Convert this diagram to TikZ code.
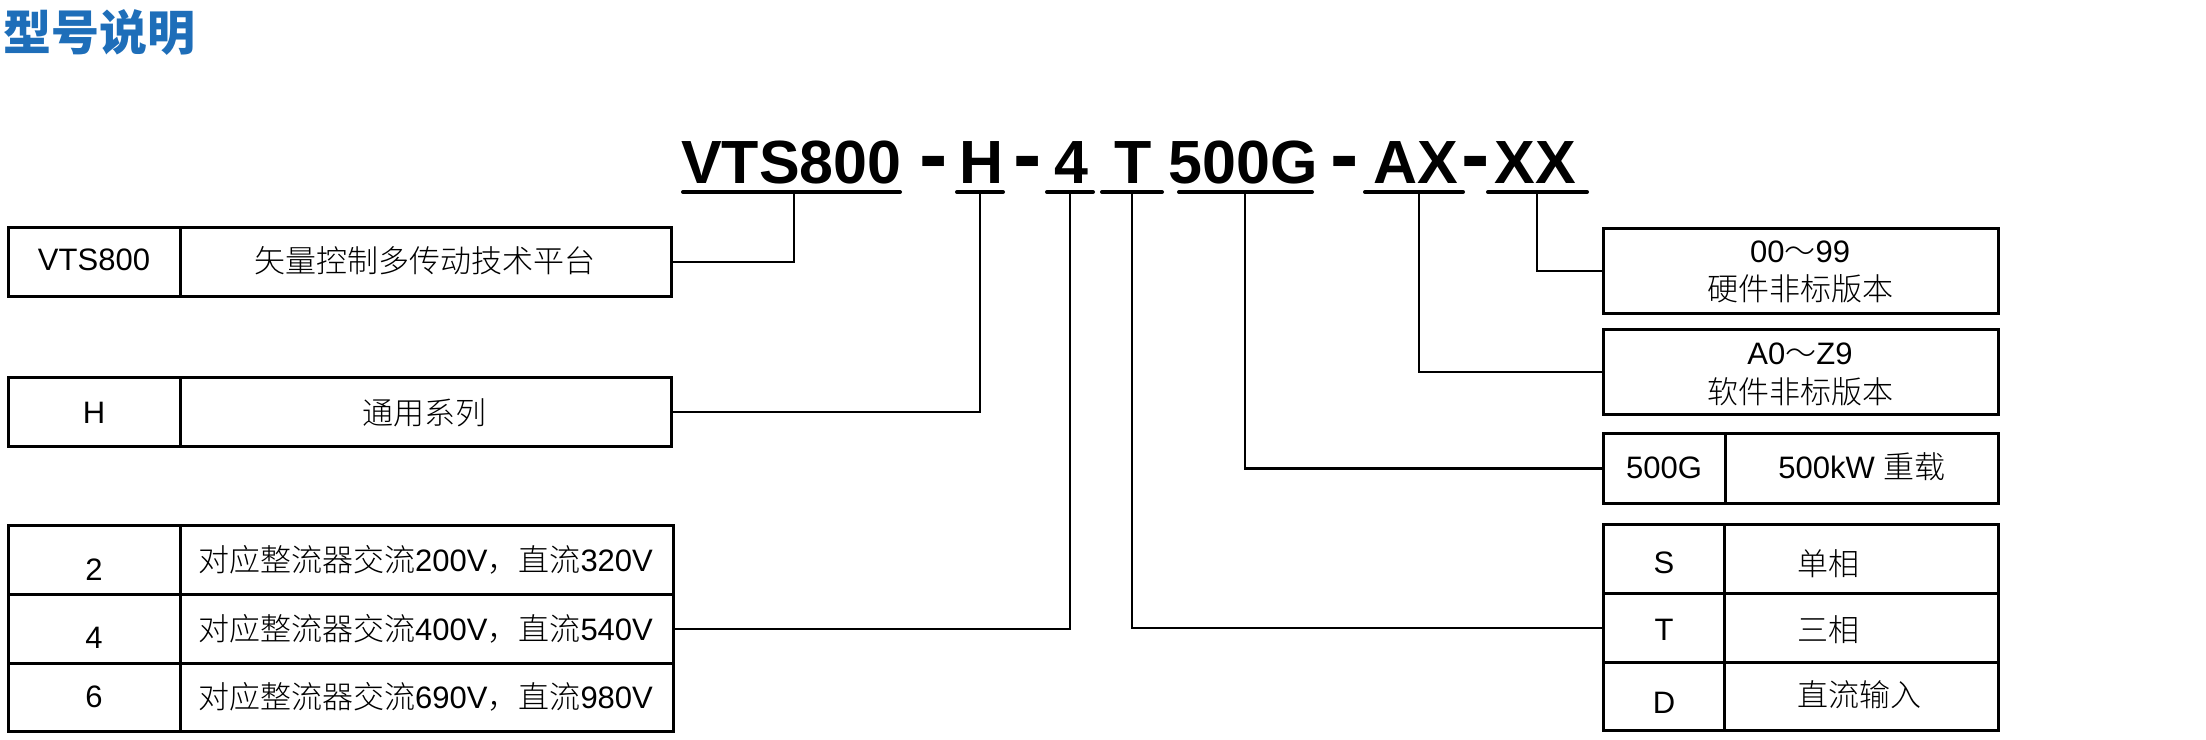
\documentclass[tikz,border=0pt]{standalone}
\usepackage{fontspec}
\setmainfont{Liberation Sans}
\newfontfamily\cjk{Noto Sans CJK SC}[UprightFont=* Light,BoldFont=* Bold]
\newfontfamily\cjktitle{Noto Sans CJK SC}
\newcommand\zh[1]{{\cjk #1}}
\definecolor{titleblue}{RGB}{30,110,185}
\begin{document}
\begin{tikzpicture}[x=1pt,y=-1pt,
  cell/.style={draw=black,line width=2.6pt,rectangle,inner sep=0pt,anchor=north west},
  conn/.style={draw=black,line width=2.6pt},
  uline/.style={line width=4pt,line cap=round},
  code/.style={font=\fontsize{61}{61}\selectfont\bfseries,anchor=base,inner sep=0pt},
  codedash/.style={font=\fontsize{85}{85}\selectfont\bfseries,anchor=base,inner sep=0pt},
  lbl/.style={font=\fontsize{31}{36}\selectfont,anchor=base,inner sep=0pt},
  lblw/.style={font=\fontsize{31}{36}\selectfont,anchor=base west,inner sep=0pt},
]
\useasboundingbox[fill=white] (0,0) rectangle (2206,739);

% title
\node[anchor=base west,inner sep=0pt,text=titleblue,font=\cjktitle\bfseries\fontsize{48}{48}\selectfont] (title) at (3,50) {型号说明};

% model code
\node[code] (cV) at (791.5,183) {VTS800};
\node[codedash] (d1) at (933.5,183) {-};
\node[code] (cH) at (982,183) {H};
\node[codedash] (d2) at (1027.5,183) {-};
\node[code] (c4) at (1071,183) {4};
\node[code] (cT) at (1133,183) {T};
\node[code] (cG) at (1243,183) {500G};
\node[codedash] (d3) at (1345,183) {-};
\node[code] (cA) at (1415.5,183) {AX};
\node[codedash] (d4) at (1476,183) {-};
\node[code] (cX) at (1535.5,183) {XX};

% underlines
\draw[uline] (683,192) -- (900,192);
\draw[uline] (957,192) -- (1003,192);
\draw[uline] (1047,192) -- (1093,192);
\draw[uline] (1102,192) -- (1162,192);
\draw[uline] (1179,192) -- (1312,192);
\draw[uline] (1365,192) -- (1463,192);
\draw[uline] (1488,192) -- (1587,192);
\coordinate (uV) at (794,192);
\coordinate (uH) at (980,192);
\coordinate (u4) at (1070,192);
\coordinate (uT) at (1132,192);
\coordinate (uG) at (1245,192);
\coordinate (uA) at (1419,192);
\coordinate (uX) at (1537,192);

% left boxes
\node[cell,minimum width=172pt,minimum height=69pt] (vl) at (7,226) {};
\node[cell,minimum width=491pt,minimum height=69pt] (vr) at (179,226) {};
\node[lbl] (tvl) at (94,270) {VTS800};
\node[lbl] (tvr) at (424.5,272) {\zh{矢量控制多传动技术平台}};

\node[cell,minimum width=172pt,minimum height=69pt] (hl) at (7,376) {};
\node[cell,minimum width=491pt,minimum height=69pt] (hr) at (179,376) {};
\node[lbl] (thl) at (94,423) {H};
\node[lbl] (thr) at (424.5,424) {\zh{通用系列}};

\node[cell,minimum width=172pt,minimum height=69pt] (al) at (7,524) {};
\node[cell,minimum width=493pt,minimum height=69pt] (ar) at (179,524) {};
\node[cell,minimum width=172pt,minimum height=69pt] (bl) at (7,593) {};
\node[cell,minimum width=493pt,minimum height=69pt] (br) at (179,593) {};
\node[cell,minimum width=172pt,minimum height=68pt] (el) at (7,662) {};
\node[cell,minimum width=493pt,minimum height=68pt] (er) at (179,662) {};
\node[lbl] (tal) at (94,580) {2};
\node[lbl] (tar) at (425.5,571) {\zh{对应整流器交流}200V\zh{，直流}320V};
\node[lbl] (tbl) at (94,648) {4};
\node[lbl] (tbr) at (425.5,640) {\zh{对应整流器交流}400V\zh{，直流}540V};
\node[lbl] (tel) at (94,707) {6};
\node[lbl] (ter) at (425.5,708) {\zh{对应整流器交流}690V\zh{，直流}980V};

% right boxes
\node[cell,minimum width=395pt,minimum height=85pt] (hw) at (1602,227) {};
\node[lbl] (thw1) at (1800,262) {00\zh{～}99};
\node[lbl] (thw2) at (1800,300) {\zh{硬件非标版本}};

\node[cell,minimum width=395pt,minimum height=85pt] (sw) at (1602,328) {};
\node[lbl] (tsw1) at (1800,364) {A0\zh{～}Z9};
\node[lbl] (tsw2) at (1800,403) {\zh{软件非标版本}};

\node[cell,minimum width=122pt,minimum height=70pt] (gl) at (1602,432) {};
\node[cell,minimum width=273pt,minimum height=70pt] (gr) at (1724,432) {};
\node[lbl] (tgl) at (1664,478) {500G};
\node[lbl] (tgr) at (1862,478) {500kW \zh{重载}};

\node[cell,minimum width=121pt,minimum height=69pt] (sl) at (1602,523) {};
\node[cell,minimum width=274pt,minimum height=69pt] (sr) at (1723,523) {};
\node[cell,minimum width=121pt,minimum height=69pt] (tl) at (1602,592) {};
\node[cell,minimum width=274pt,minimum height=69pt] (tr) at (1723,592) {};
\node[cell,minimum width=121pt,minimum height=68pt] (dl) at (1602,661) {};
\node[cell,minimum width=274pt,minimum height=68pt] (dr) at (1723,661) {};
\node[lbl] (tsl) at (1664,573) {S};
\node[lblw] (tsr) at (1797,575) {\zh{单相}};
\node[lbl] (ttl) at (1664,640) {T};
\node[lblw] (ttr) at (1797,641) {\zh{三相}};
\node[lbl] (tdl) at (1664,713) {D};
\node[lblw] (tdr) at (1797,706) {\zh{直流输入}};

% connectors
\draw[conn] (uV) |- (vr.east);
\draw[conn] (uH) |- (hr.east);
\draw[conn] (u4) |- (br.east);
\draw[conn] (uT) |- (tl.west);
\draw[conn] (uG) |- (gl.west);
\draw[conn] (uA) |- (sw.west);
\draw[conn] (uX) |- (hw.west);
\end{tikzpicture}
\end{document}
